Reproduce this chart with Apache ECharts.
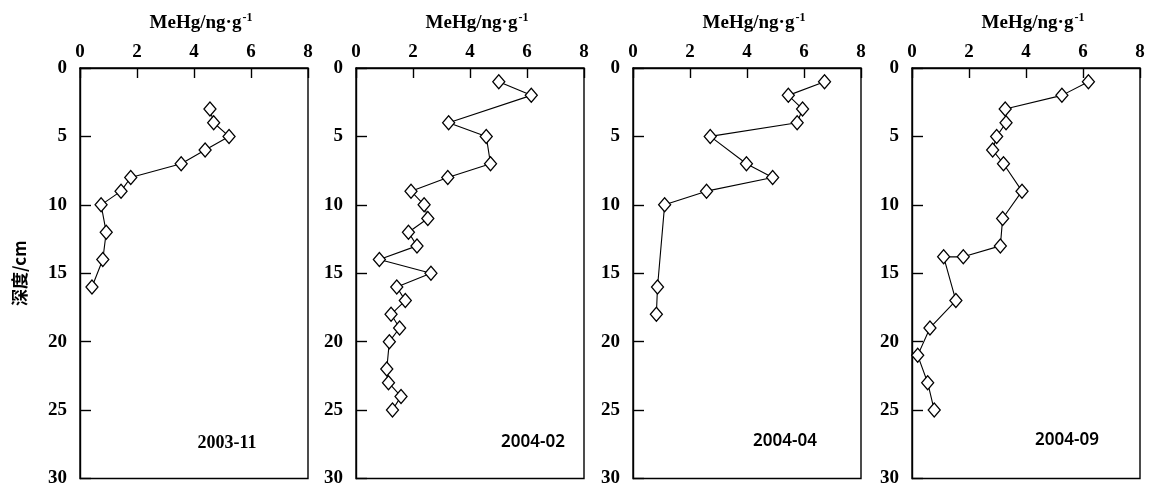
<!DOCTYPE html>
<html><head><meta charset="utf-8">
<script src="https://cdn.jsdelivr.net/npm/echarts@6/dist/echarts.min.js"></script>
<style>html,body{margin:0;padding:0;background:#fff}#c{width:1149px;height:488px}</style>
</head><body><div id="c"></div>
<script>
// Data: MeHg (ng/g) vs depth (cm)
const panelNames = ['2003-11', '2004-02', '2004-04', '2004-09'];
const depth1 = [3, 4, 5, 6, 7, 8, 9, 10, 12, 14, 16];
const mehg1  = [4.56, 4.69, 5.23, 4.39, 3.55, 1.78, 1.44, 0.74, 0.92, 0.80, 0.42];
const depth2 = [1, 2, 4, 5, 7, 8, 9, 10, 11, 12, 13, 14, 15, 16, 17, 18, 19, 20, 22, 23, 24, 25];
const mehg2  = [5.01, 6.15, 3.25, 4.57, 4.72, 3.22, 1.93, 2.39, 2.52, 1.84, 2.14, 0.82, 2.63, 1.43, 1.73, 1.23, 1.53, 1.17, 1.08, 1.14, 1.58, 1.28];
const depth3 = [1, 2, 3, 4, 5, 7, 8, 9, 10, 16, 18];
const mehg3  = [6.72, 5.45, 5.95, 5.76, 2.71, 3.98, 4.90, 2.58, 1.11, 0.86, 0.82];
const depth4 = [1, 2, 3, 4, 5, 6, 7, 9, 11, 13, 13.8, 13.8, 17, 19, 21, 23, 25];
const mehg4  = [6.19, 5.26, 3.27, 3.30, 2.97, 2.83, 3.21, 3.86, 3.18, 3.10, 1.80, 1.11, 1.54, 0.63, 0.20, 0.55, 0.78];
const xTicks = [0, 2, 4, 6, 8];
const yTicks = [0, 5, 10, 15, 20, 25, 30];
const xTitle = 'MeHg/ng·g';
const yTitle = '深度/cm';

const depths = [depth1, depth2, depth3, depth4];
const values = [mehg1, mehg2, mehg3, mehg4];

const chart = echarts.init(document.getElementById('c'));
const lefts = [80, 356, 633, 912];
const W = 228, TOP = 68, H = 411;
const serif = '"Liberation Serif","Times New Roman",serif';

const grid = [], xAxis = [], yAxis = [], series = [];
for (let i = 0; i < 4; i++) {
  grid.push({left: lefts[i], top: TOP, width: W, height: H, show: true,
    borderColor: '#000', borderWidth: 1.4, backgroundColor: 'transparent'});
  xAxis.push({gridIndex: i, type: 'value', position: 'top', min: xTicks[0], max: xTicks[xTicks.length-1], interval: 2,
    name: '{a|' + xTitle + '}{b|-1}', nameLocation: 'middle', nameGap: 34,
    nameTextStyle: {rich: {
      a: {fontFamily: serif, fontWeight: 'bold', fontSize: 19, color: '#000', padding: [0, 0, 0, 14]},
      b: {fontFamily: serif, fontWeight: 'bold', fontSize: 12, color: '#000', padding: [0, 0, 10, 1]}
    }},
    axisLine: {show: true, lineStyle: {color: '#000', width: 1.4}},
    axisTick: {show: true, inside: true, length: 10, lineStyle: {color: '#000', width: 1.4}},
    axisLabel: {fontFamily: serif, fontWeight: 'bold', fontSize: 19, color: '#000', margin: 6},
    splitLine: {show: false}});
  yAxis.push({gridIndex: i, type: 'value', inverse: true, min: yTicks[0], max: yTicks[yTicks.length-1], interval: 5,
    name: i === 0 ? yTitle : '', nameLocation: 'middle', nameGap: 52, nameRotate: 90,
    nameTextStyle: {fontFamily: '"Noto Sans CJK SC",' + serif, fontWeight: 'bold', fontSize: 17, color: '#000'},
    axisLine: {show: true, lineStyle: {color: '#000', width: 1.4}},
    axisTick: {show: true, inside: true, length: 11, lineStyle: {color: '#000', width: 1.4}},
    axisLabel: {fontFamily: serif, fontWeight: 'bold', fontSize: 19, color: '#000', margin: 13},
    splitLine: {show: false}});
  series.push({type: 'line', xAxisIndex: i, yAxisIndex: i,
    data: depths[i].map((d, k) => [values[i][k], d]),
    symbol: 'diamond', symbolSize: [12, 14],
    lineStyle: {color: '#000', width: 1.1},
    itemStyle: {color: '#fff', borderColor: '#000', borderWidth: 1.3},
    emphasis: {disabled: true}, animation: false, clip: false});
}
const dateX = [227, 533, 785, 1067];
const dateY = [443, 442, 441, 440];
chart.setOption({animation: false, grid, xAxis, yAxis, series,
  graphic: panelNames.map((t, i) => ({type: 'text', x: dateX[i], y: dateY[i],
    style: {text: t, align: 'center', verticalAlign: 'middle',
      font: i === 0 ? 'bold 18px ' + serif : '600 17px "Noto Sans",sans-serif', fill: '#000'}}))});
</script></body></html>
